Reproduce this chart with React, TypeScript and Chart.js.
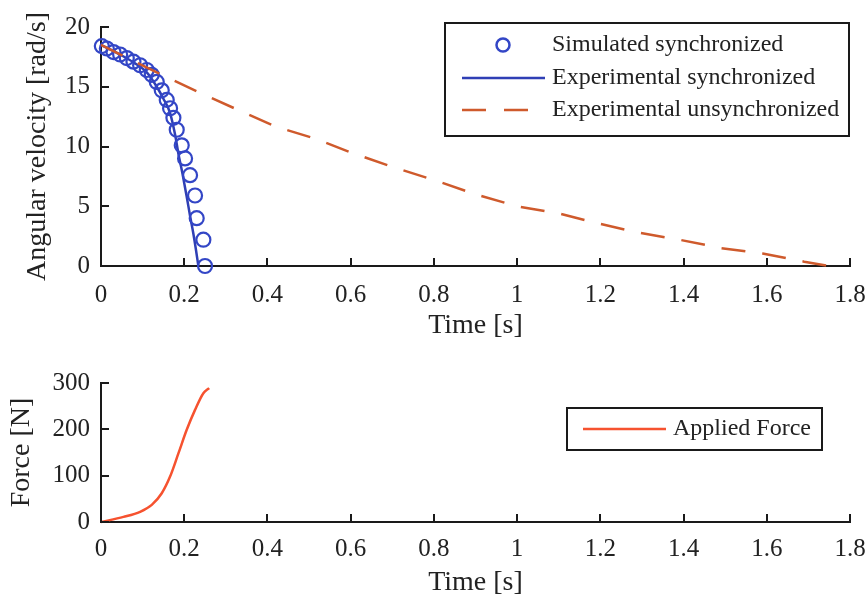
import React, { useEffect, useRef } from "react";
import { Chart, registerables } from "chart.js";

Chart.register(...registerables);

// ---------- data ----------
const timeTicks = [0, 0.2, 0.4, 0.6, 0.8, 1.0, 1.2, 1.4, 1.6, 1.8];
const velocityTicks = [0, 5, 10, 15, 20];
const forceTicks = [0, 100, 200, 300];

const simTime = [0.002, 0.014, 0.03, 0.046, 0.062, 0.078, 0.094, 0.11, 0.122, 0.134, 0.146, 0.158, 0.166, 0.174, 0.182, 0.194, 0.202, 0.214, 0.226, 0.23, 0.246, 0.25];
const simVelocity = [18.4, 18.2, 17.9, 17.7, 17.4, 17.1, 16.8, 16.4, 16.0, 15.4, 14.7, 13.9, 13.2, 12.4, 11.4, 10.1, 9.0, 7.6, 5.9, 4.0, 2.2, 0.0];

const expSyncTime = [0, 0.04, 0.08, 0.11, 0.134, 0.15, 0.166, 0.178, 0.186, 0.196, 0.206, 0.214, 0.222, 0.228, 0.234];
const expSyncVelocity = [18.5, 17.8, 17.0, 16.2, 15.0, 14.0, 12.8, 11.0, 9.4, 7.7, 5.8, 4.2, 2.7, 1.4, 0];

const expUnsyncTime = [0, 0.146, 0.24, 0.33, 0.42, 0.52, 0.6, 0.7, 0.8, 0.9, 1.0, 1.1, 1.19, 1.29, 1.39, 1.49, 1.59, 1.69, 1.75];
const expUnsyncVelocity = [18.5, 16.0, 14.45, 13.05, 11.66, 10.6, 9.5, 8.3, 7.2, 6.0, 5.0, 4.4, 3.6, 2.8, 2.2, 1.5, 1.05, 0.36, 0];

const forceTime = [0, 0.054, 0.094, 0.122, 0.146, 0.166, 0.186, 0.206, 0.226, 0.246, 0.26];
const forceValue = [0, 11, 22, 37, 62, 98, 148, 199, 242, 278, 289];

// ---------- style ----------
const FONT = '"Liberation Serif", "Times New Roman", serif';
const TEXT = "#222222";
const AXIS = "#1a1a1a";
const BLUE_CIRCLE = "#3346c6";
const BLUE_LINE = "#2f3fb5";
const ORANGE = "#cf5a2c";
const RED = "#f6522f";

const pts = (xs: number[], ys: number[]) => xs.map((x, i) => ({ x, y: ys[i] }));

const inwardTicks = {
  id: "inwardTicks",
  afterDatasetsDraw(chart: any) {
    const { ctx } = chart;
    const xs = chart.scales.x;
    const ys = chart.scales.y;
    ctx.save();
    ctx.strokeStyle = AXIS;
    ctx.lineWidth = 2;
    xs.ticks.forEach((t: any) => {
      const px = Math.round(xs.getPixelForValue(t.value));
      ctx.beginPath();
      ctx.moveTo(px, ys.bottom);
      ctx.lineTo(px, ys.bottom - 8);
      ctx.stroke();
    });
    ys.ticks.forEach((t: any) => {
      const py = Math.round(ys.getPixelForValue(t.value));
      ctx.beginPath();
      ctx.moveTo(xs.left, py);
      ctx.lineTo(xs.left + 8, py);
      ctx.stroke();
    });
    ctx.restore();
  },
};

type Row = { y: number; kind: "circle" | "line" | "dash"; ds: number };
function boxLegend(box: { l: number; t: number; r: number; b: number }, sample: { x0: number; x1: number; cx: number }, textX: number, rows: Row[]) {
  return {
    id: "boxLegend",
    afterDraw(chart: any) {
      const { ctx } = chart;
      ctx.save();
      ctx.fillStyle = "#ffffff";
      ctx.fillRect(box.l, box.t, box.r - box.l, box.b - box.t);
      ctx.strokeStyle = AXIS;
      ctx.lineWidth = 2;
      ctx.strokeRect(box.l, box.t, box.r - box.l, box.b - box.t);
      rows.forEach((row) => {
        const ds = chart.data.datasets[row.ds];
        ctx.strokeStyle = ds.borderColor;
        ctx.lineWidth = 2.5;
        if (row.kind === "circle") {
          ctx.lineWidth = 2.5;
          ctx.beginPath();
          ctx.arc(sample.cx, row.y, 6.5, 0, Math.PI * 2);
          ctx.stroke();
        } else {
          ctx.setLineDash(row.kind === "dash" ? [24, 18] : []);
          ctx.beginPath();
          ctx.moveTo(sample.x0, row.y);
          ctx.lineTo(row.kind === "dash" ? sample.x1 - 15 : sample.x1, row.y);
          ctx.stroke();
          ctx.setLineDash([]);
        }
        ctx.fillStyle = TEXT;
        ctx.font = `24px ${FONT}`;
        ctx.textBaseline = "middle";
        ctx.textAlign = "left";
        ctx.fillText(ds.label, textX, row.y);
      });
      ctx.restore();
    },
  };
}

const fmtTime = (v: any) => String(Number(Number(v).toFixed(1)));

function xScale(height: number, tickPad: number, titlePadBottom: number) {
  return {
    type: "linear",
    min: 0,
    max: 1.8,
    afterBuildTicks: (s: any) => {
      s.ticks = timeTicks.map((v) => ({ value: v }));
    },
    afterFit: (s: any) => {
      s.height = height;
      s.paddingLeft = 0;
      s.paddingRight = 0;
    },
    grid: { display: false, drawTicks: false, tickLength: 0 },
    border: { display: true, color: AXIS, width: 2 },
    ticks: { font: { family: FONT, size: 25 }, color: TEXT, padding: tickPad, maxRotation: 0, autoSkip: false, callback: fmtTime },
    title: { display: true, text: "Time [s]", font: { family: FONT, size: 28 }, color: TEXT, padding: { top: 0, bottom: titlePadBottom } },
  };
}

function yScale(min: number, max: number, tickVals: number[], title: string, titlePadTop: number) {
  return {
    type: "linear",
    min,
    max,
    afterBuildTicks: (s: any) => {
      s.ticks = tickVals.map((v) => ({ value: v }));
    },
    afterFit: (s: any) => {
      s.width = 101;
      s.paddingTop = 0;
      s.paddingBottom = 0;
    },
    grid: { display: false, drawTicks: false, tickLength: 0 },
    border: { display: true, color: AXIS, width: 2 },
    ticks: { font: { family: FONT, size: 25 }, color: TEXT, padding: 11, autoSkip: false, callback: (v: any) => String(v) },
    title: { display: true, text: title, font: { family: FONT, size: 28 }, color: TEXT, padding: { top: titlePadTop, bottom: 0 } },
  };
}

export default function App() {
  const topRef = useRef<HTMLCanvasElement>(null);
  const botRef = useRef<HTMLCanvasElement>(null);

  useEffect(() => {
    document.body.style.margin = "0";
    const top = new Chart(topRef.current as HTMLCanvasElement, {
      type: "scatter",
      data: {
        datasets: [
          {
            label: "Simulated synchronized",
            data: pts(simTime, simVelocity),
            showLine: false,
            pointStyle: "circle",
            pointRadius: 7,
            pointBorderWidth: 2.2,
            borderColor: BLUE_CIRCLE,
            pointBorderColor: BLUE_CIRCLE,
            backgroundColor: "rgba(0,0,0,0)",
            pointBackgroundColor: "rgba(0,0,0,0)",
            clip: false,
            order: 1,
          },
          {
            label: "Experimental synchronized",
            data: pts(expSyncTime, expSyncVelocity),
            showLine: true,
            pointRadius: 0,
            borderColor: BLUE_LINE,
            borderWidth: 2.5,
            cubicInterpolationMode: "monotone",
            clip: false,
            order: 2,
          },
          {
            label: "Experimental unsynchronized",
            data: pts(expUnsyncTime, expUnsyncVelocity),
            showLine: true,
            pointRadius: 0,
            borderColor: ORANGE,
            borderWidth: 2.5,
            borderDash: [24, 17],
            clip: false,
            order: 0,
          },
        ],
      } as any,
      options: {
        responsive: false,
        animation: false,
        devicePixelRatio: 1,
        layout: { padding: { top: 27, right: 16, left: 0, bottom: 0 } },
        plugins: { legend: { display: false }, tooltip: { enabled: false } },
        scales: {
          x: xScale(79, 14, 3),
          y: yScale(0, 20, velocityTicks, "Angular velocity [rad/s]", 21),
        } as any,
      },
      plugins: [
        inwardTicks,
        boxLegend({ l: 445, t: 23, r: 849, b: 136 }, { x0: 462, x1: 545, cx: 503 }, 552, [
          { y: 45, kind: "circle", ds: 0 },
          { y: 78, kind: "line", ds: 1 },
          { y: 110, kind: "dash", ds: 2 },
        ]),
      ],
    });

    const bot = new Chart(botRef.current as HTMLCanvasElement, {
      type: "scatter",
      data: {
        datasets: [
          {
            label: "Applied Force",
            data: pts(forceTime, forceValue),
            showLine: true,
            pointRadius: 0,
            borderColor: RED,
            borderWidth: 2.5,
            cubicInterpolationMode: "monotone",
            clip: false,
          },
        ],
      } as any,
      options: {
        responsive: false,
        animation: false,
        devicePixelRatio: 1,
        layout: { padding: { top: 38, right: 16, left: 0, bottom: 0 } },
        plugins: { legend: { display: false }, tooltip: { enabled: false } },
        scales: {
          x: xScale(77, 12, 0),
          y: yScale(0, 300, forceTicks, "Force [N]", 5),
        } as any,
      },
      plugins: [
        inwardTicks,
        boxLegend({ l: 567, t: 63, r: 822, b: 105 }, { x0: 583, x1: 666, cx: 620 }, 673, [{ y: 84, kind: "line", ds: 0 }]),
      ],
    });

    return () => {
      top.destroy();
      bot.destroy();
    };
  }, []);

  return (
    <div style={{ position: "absolute", left: 0, top: 0, width: 866, height: 599, background: "#ffffff" }}>
      <canvas ref={topRef} width={866} height={345} style={{ position: "absolute", left: 0, top: 0, width: 866, height: 345 }} />
      <canvas ref={botRef} width={866} height={254} style={{ position: "absolute", left: 0, top: 345, width: 866, height: 254 }} />
    </div>
  );
}
